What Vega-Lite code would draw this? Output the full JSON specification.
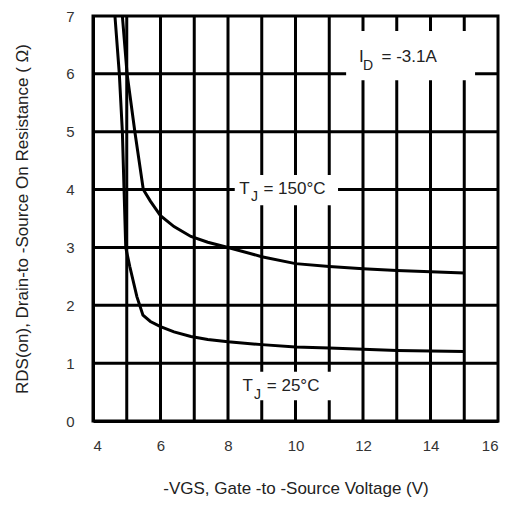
{
  "$schema": "https://vega.github.io/schema/vega-lite/v6.json",
  "width": 405,
  "height": 405,
  "autosize": "none",
  "padding": {"left": 93, "top": 16, "right": 14, "bottom": 86},
  "background": "white",
  "config": {
    "font": "Liberation Sans",
    "view": {"stroke": "black", "strokeWidth": 3},
    "axis": {
      "grid": false,
      "domainColor": "black", "domainWidth": 3,
      "ticks": false,
      "labelFont": "Liberation Sans", "labelFontSize": 15, "labelColor": "#333333",
      "titleFont": "Liberation Sans", "titleFontSize": 17, "titleFontWeight": "normal", "titleColor": "#222222"
    }
  },
  "datasets": {
    "gridV": [{"g": 5}, {"g": 6}, {"g": 7}, {"g": 8}, {"g": 9}, {"g": 10}, {"g": 11}, {"g": 12}, {"g": 13}, {"g": 14}, {"g": 15}],
    "gridH": [{"g": 1}, {"g": 2}, {"g": 3}, {"g": 4}, {"g": 5}, {"g": 6}],
    "curves": [
      {"v": 4.65, "r": 7.0, "tj": "25"},
      {"v": 4.78, "r": 6.0, "tj": "25"},
      {"v": 4.87, "r": 5.0, "tj": "25"},
      {"v": 4.92, "r": 4.0, "tj": "25"},
      {"v": 4.97, "r": 3.0, "tj": "25"},
      {"v": 5.09, "r": 2.67, "tj": "25"},
      {"v": 5.3, "r": 2.15, "tj": "25"},
      {"v": 5.48, "r": 1.83, "tj": "25"},
      {"v": 5.7, "r": 1.72, "tj": "25"},
      {"v": 6.0, "r": 1.63, "tj": "25"},
      {"v": 6.4, "r": 1.54, "tj": "25"},
      {"v": 6.9, "r": 1.46, "tj": "25"},
      {"v": 7.4, "r": 1.41, "tj": "25"},
      {"v": 8.0, "r": 1.37, "tj": "25"},
      {"v": 9.0, "r": 1.32, "tj": "25"},
      {"v": 10.0, "r": 1.28, "tj": "25"},
      {"v": 11.0, "r": 1.26, "tj": "25"},
      {"v": 12.0, "r": 1.24, "tj": "25"},
      {"v": 13.0, "r": 1.22, "tj": "25"},
      {"v": 14.0, "r": 1.21, "tj": "25"},
      {"v": 15.0, "r": 1.2, "tj": "25"},
      {"v": 4.87, "r": 7.0, "tj": "150"},
      {"v": 5.01, "r": 6.0, "tj": "150"},
      {"v": 5.24, "r": 5.0, "tj": "150"},
      {"v": 5.49, "r": 4.0, "tj": "150"},
      {"v": 5.7, "r": 3.8, "tj": "150"},
      {"v": 5.88, "r": 3.65, "tj": "150"},
      {"v": 6.0, "r": 3.55, "tj": "150"},
      {"v": 6.4, "r": 3.36, "tj": "150"},
      {"v": 6.9, "r": 3.19, "tj": "150"},
      {"v": 7.4, "r": 3.09, "tj": "150"},
      {"v": 8.0, "r": 3.0, "tj": "150"},
      {"v": 9.0, "r": 2.84, "tj": "150"},
      {"v": 10.0, "r": 2.72, "tj": "150"},
      {"v": 11.0, "r": 2.67, "tj": "150"},
      {"v": 12.0, "r": 2.63, "tj": "150"},
      {"v": 13.0, "r": 2.6, "tj": "150"},
      {"v": 14.0, "r": 2.58, "tj": "150"},
      {"v": 15.0, "r": 2.56, "tj": "150"}
    ],
    "boxes": [
      {"v1": 11.5, "v2": 15.32, "r1": 5.89, "r2": 6.74},
      {"v1": 8.2, "v2": 11.26, "r1": 3.73, "r2": 4.25},
      {"v1": 8.2, "v2": 11.3, "r1": 0.36, "r2": 0.85}
    ],
    "mainText": [
      {"v": 11.88, "r": 6.2, "t": "I"},
      {"v": 12.55, "r": 6.2, "t": "= -3.1A"},
      {"v": 8.33, "r": 3.93, "t": "T"},
      {"v": 9.05, "r": 3.93, "t": "= 150°C"},
      {"v": 8.43, "r": 0.51, "t": "T"},
      {"v": 9.15, "r": 0.51, "t": "= 25°C"}
    ],
    "subText": [
      {"v": 12.0, "r": 6.06, "t": "D"},
      {"v": 8.68, "r": 3.8, "t": "J"},
      {"v": 8.77, "r": 0.38, "t": "J"}
    ]
  },
  "layer": [
    {
      "data": {"name": "gridV"},
      "mark": {"type": "rule", "color": "black", "strokeWidth": 3},
      "encoding": {
        "x": {"field": "g", "type": "quantitative", "scale": {"domain": [4, 16], "nice": false, "zero": false},
          "axis": {
            "values": [4, 5, 6, 7, 8, 9, 10, 11, 12, 13, 14, 15, 16],
            "labelExpr": "datum.value % 2 == 0 ? datum.label : ''",
            "labelPadding": 17,
            "titlePadding": 27,
            "title": "-VGS, Gate -to -Source Voltage  (V)"
          }}
      }
    },
    {
      "data": {"name": "gridH"},
      "mark": {"type": "rule", "color": "black", "strokeWidth": 3},
      "encoding": {
        "y": {"field": "g", "type": "quantitative", "scale": {"domain": [0, 7], "nice": false},
          "axis": {
            "values": [0, 1, 2, 3, 4, 5, 6, 7],
            "format": "d",
            "labelPadding": 19,
            "titlePadding": 34,
            "title": "RDS(on),  Drain-to -Source On Resistance ( Ω)"
          }}
      }
    },
    {
      "data": {"name": "curves"},
      "mark": {"type": "line", "color": "black", "strokeWidth": 3, "clip": true},
      "encoding": {
        "x": {"field": "v", "type": "quantitative"},
        "y": {"field": "r", "type": "quantitative"},
        "detail": {"field": "tj"}
      }
    },
    {
      "data": {"name": "boxes"},
      "mark": {"type": "rect", "fill": "white", "strokeWidth": 0},
      "encoding": {
        "x": {"field": "v1", "type": "quantitative"},
        "x2": {"field": "v2"},
        "y": {"field": "r1", "type": "quantitative"},
        "y2": {"field": "r2"}
      }
    },
    {
      "data": {"name": "mainText"},
      "mark": {"type": "text", "align": "left", "baseline": "alphabetic", "fontSize": 17, "color": "#222222"},
      "encoding": {
        "x": {"field": "v", "type": "quantitative"},
        "y": {"field": "r", "type": "quantitative"},
        "text": {"field": "t"}
      }
    },
    {
      "data": {"name": "subText"},
      "mark": {"type": "text", "align": "left", "baseline": "alphabetic", "fontSize": 14, "color": "#222222"},
      "encoding": {
        "x": {"field": "v", "type": "quantitative"},
        "y": {"field": "r", "type": "quantitative"},
        "text": {"field": "t"}
      }
    }
  ]
}
